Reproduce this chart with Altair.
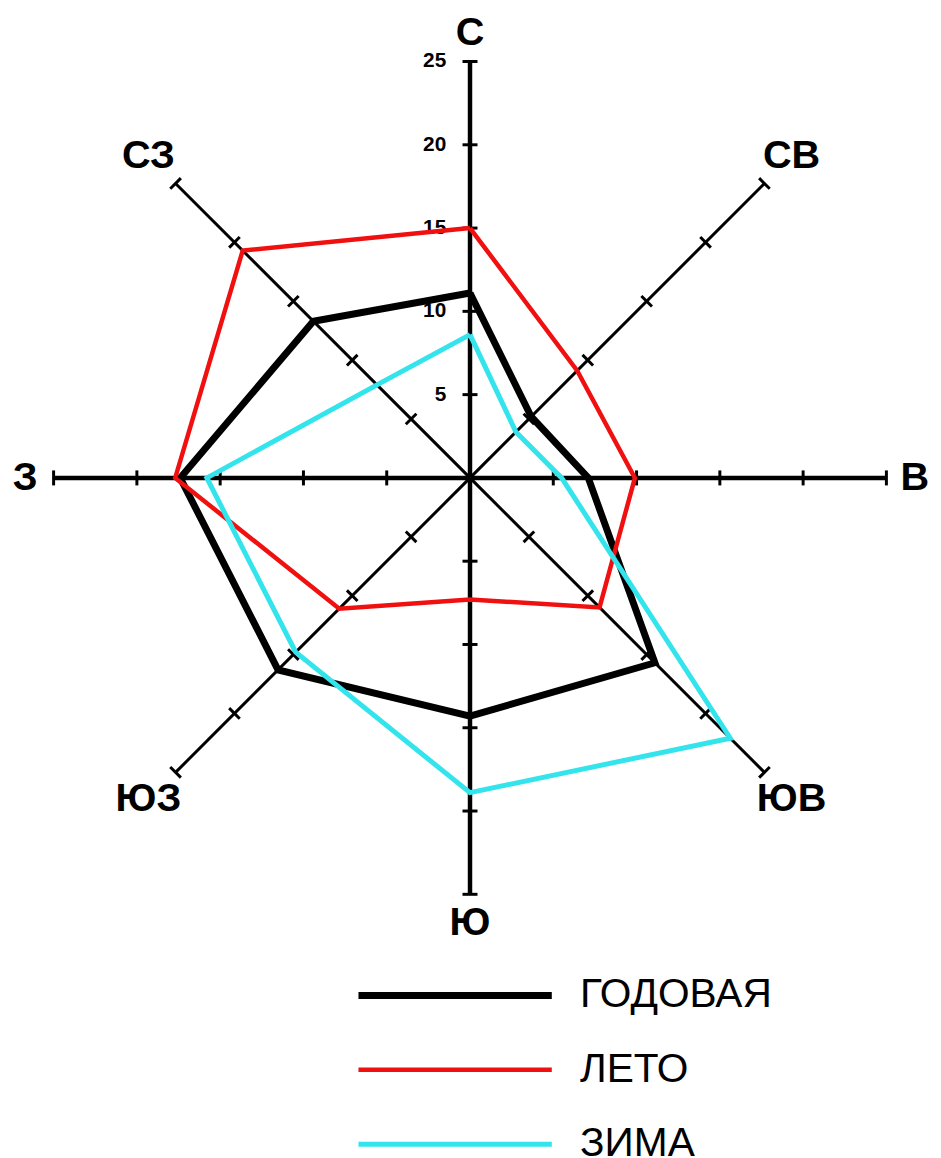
import altair as alt
import pandas as pd

# ---- data ----
directions = ["С", "СВ", "В", "ЮВ", "Ю", "ЮЗ", "З", "СЗ"]
series_names = ["ГОДОВАЯ", "ЛЕТО", "ЗИМА"]
annual = [11.1, 5.2, 7.1, 15.7, 14.3, 16.3, 17.4, 13.3]
summer = [15.0, 9.1, 9.9, 11.0, 7.3, 11.1, 17.7, 19.3]
winter = [8.6, 3.9, 5.5, 22.1, 18.9, 14.8, 15.8, 7.9]
scale_ticks = [5, 10, 15, 20, 25]

# ---- styles ----
series_colors = ["#000000", "#f01010", "#33e4ec"]
series_widths = [7, 4.5, 5]
FONT = "Liberation Sans, Arial, sans-serif"
RMAX = max(scale_ticks)
TICK_HALF = 0.45

# ---- tables built from the arrays ----
rows = []
for name, vals in zip(series_names, [annual, summer, winter]):
    for i in range(len(directions) + 1):
        k = i % len(directions)
        rows.append({"series": name, "idx": k, "dir": directions[k], "value": vals[k], "order": i})
rose_df = pd.DataFrame(rows)

spokes_df = pd.DataFrame({"idx": list(range(len(directions))), "dir": directions})
ticks_df = pd.DataFrame(
    [{"idx": k, "r": t} for k in range(len(directions)) for t in scale_ticks]
)
nums_df = pd.DataFrame({"r": scale_ticks})

dom = alt.Scale(domain=[-RMAX, RMAX], nice=False, zero=False)


def X(f):
    return alt.X(f, type="quantitative", scale=dom, axis=None)


def Y(f):
    return alt.Y(f, type="quantitative", scale=dom, axis=None)


spokes = alt.Chart(spokes_df).transform_calculate(
    ang="datum.idx*PI/4",
    x0="0",
    y0="0",
    x1=f"{RMAX}*sin(datum.ang)",
    y1=f"{RMAX}*cos(datum.ang)",
    w="datum.idx % 2 == 0 ? 4.5 : 3",
).mark_rule(color="black").encode(
    x=X("x0"), y=Y("y0"), x2="x1:Q", y2="y1:Q",
    strokeWidth=alt.StrokeWidth("w:Q", scale=None),
)

ticks = alt.Chart(ticks_df).transform_calculate(
    ang="datum.idx*PI/4",
    cx="datum.r*sin(datum.ang)",
    cy="datum.r*cos(datum.ang)",
    xa=f"datum.cx - {TICK_HALF}*cos(datum.ang)",
    ya=f"datum.cy + {TICK_HALF}*sin(datum.ang)",
    xb=f"datum.cx + {TICK_HALF}*cos(datum.ang)",
    yb=f"datum.cy - {TICK_HALF}*sin(datum.ang)",
).mark_rule(color="black", strokeWidth=3).encode(
    x=X("xa"), y=Y("ya"), x2="xb:Q", y2="yb:Q"
)

nums = alt.Chart(nums_df).transform_calculate(x0="0").mark_text(
    align="right", baseline="middle", dx=-24, font=FONT, fontWeight="bold",
    fontSize=21, color="black",
).encode(x=X("x0"), y=Y("r"), text=alt.Text("r:Q", format="d"))

dirs = alt.Chart(spokes_df).transform_calculate(
    ang="datum.idx*PI/4",
    lr="26.7 + 0.6*(datum.idx % 2)",
    lx="datum.lr*sin(datum.ang)",
    ly="datum.lr*cos(datum.ang)",
).mark_text(
    align="center", baseline="middle", font=FONT, fontWeight="bold",
    fontSize=40, color="black",
).encode(x=X("lx"), y=Y("ly"), text="dir:N")

leg = alt.Legend(
    title=None, orient="none", legendX=304, legendY=922, direction="vertical",
    symbolType="stroke", symbolSize=195 ** 2, clipHeight=40, rowPadding=34,
    labelFont=FONT, labelFontSize=41, labelColor="black", labelOffset=25,
    labelLimit=400, symbolOffset=0, padding=0, offset=0,
)

rose = alt.Chart(rose_df).transform_calculate(
    ang="datum.idx*PI/4",
    px="datum.value*sin(datum.ang)",
    py="datum.value*cos(datum.ang)",
).mark_line(strokeJoin="miter").encode(
    x=X("px"), y=Y("py"),
    order="order:Q",
    color=alt.Color("series:N", scale=alt.Scale(domain=series_names, range=series_colors), legend=leg),
    strokeWidth=alt.StrokeWidth(
        "series:N",
        scale=alt.Scale(type="ordinal", domain=series_names, range=series_widths),
        legend=leg,
    ),
)

chart = alt.layer(spokes, ticks, nums, dirs, rose).properties(
    width=840, height=840,
    padding={"left": 46, "top": 49, "right": 47, "bottom": 261},
    autosize=alt.AutoSizeParams(type="none"),
).configure_view(strokeWidth=0)

chart.save("out.html", embed_options={"renderer": "svg", "actions": False})
